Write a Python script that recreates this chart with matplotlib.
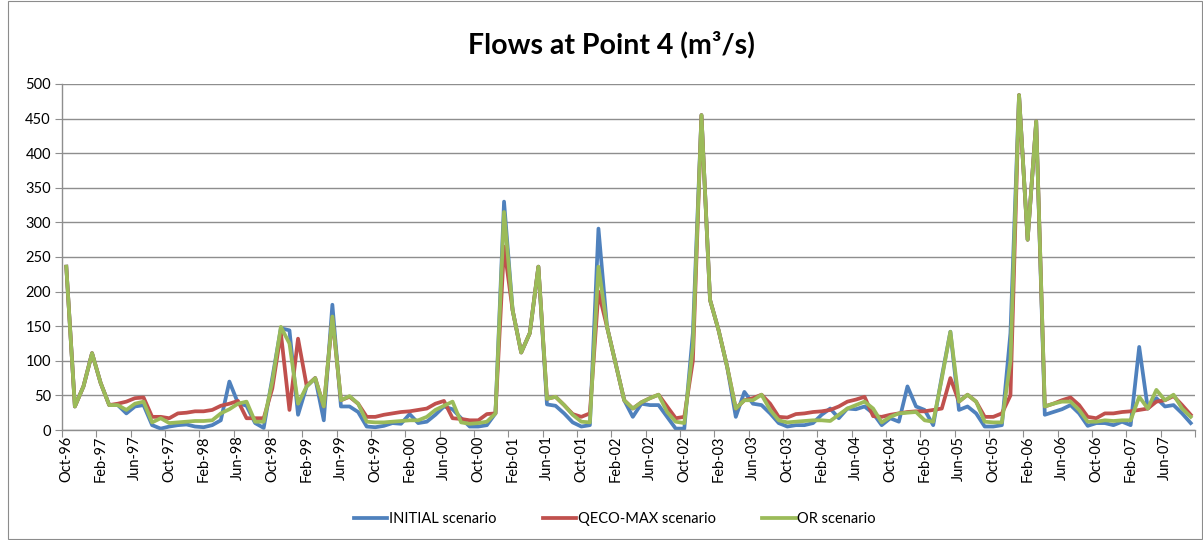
import matplotlib
matplotlib.use("Agg")
import matplotlib.pyplot as plt
from matplotlib.patches import Rectangle

tick_labels = ["Oct-96", "Feb-97", "Jun-97", "Oct-97", "Feb-98", "Jun-98", "Oct-98", "Feb-99",
               "Jun-99", "Oct-99", "Feb-00", "Jun-00", "Oct-00", "Feb-01", "Jun-01", "Oct-01",
               "Feb-02", "Jun-02", "Oct-02", "Feb-03", "Jun-03", "Oct-03", "Feb-04", "Jun-04",
               "Oct-04", "Feb-05", "Jun-05", "Oct-05", "Feb-06", "Jun-06", "Oct-06", "Feb-07", "Jun-07"]

initial = [236, 34, 63, 111, 68, 36, 36, 24, 34, 36, 7, 2,
           5, 7, 8, 5, 4, 7, 14, 70, 39, 35, 10, 3,
           75, 147, 144, 22, 63, 75, 14, 181, 34, 34, 26, 5,
           4, 6, 10, 9, 23, 10, 12, 22, 34, 30, 17, 5,
           5, 7, 24, 330, 173, 112, 140, 236, 37, 35, 24, 11,
           5, 7, 291, 149, 96, 43, 19, 38, 36, 36, 19, 2,
           2, 140, 455, 188, 144, 91, 19, 55, 38, 36, 24, 10,
           5, 7, 7, 10, 22, 31, 17, 31, 30, 34, 24, 7,
           17, 12, 63, 34, 29, 7, 77, 142, 29, 34, 24, 5,
           5, 7, 140, 484, 275, 446, 22, 26, 30, 36, 24, 6,
           10, 10, 7, 12, 7, 120, 31, 46, 34, 36, 24, 10]

qeco_max = [236, 34, 63, 111, 68, 36, 38, 41, 46, 47, 19, 19,
            17, 24, 25, 27, 27, 29, 35, 38, 42, 17, 17, 17,
            60, 140, 29, 132, 64, 75, 34, 162, 43, 48, 38, 19,
            19, 22, 24, 26, 27, 29, 31, 38, 42, 17, 16, 14,
            14, 23, 24, 265, 173, 112, 140, 236, 45, 48, 36, 23,
            19, 24, 200, 149, 96, 43, 31, 40, 46, 51, 34, 17,
            19, 100, 455, 188, 144, 91, 31, 43, 46, 51, 38, 19,
            18, 23, 24, 26, 27, 29, 34, 41, 44, 48, 20, 19,
            22, 24, 26, 27, 27, 29, 31, 75, 41, 51, 41, 19,
            19, 24, 50, 484, 275, 446, 34, 38, 43, 47, 36, 19,
            17, 24, 24, 26, 27, 29, 31, 41, 43, 49, 36, 22]

or_scen = [236, 34, 63, 111, 68, 36, 36, 29, 38, 41, 11, 17,
           10, 11, 12, 13, 13, 14, 24, 30, 38, 41, 12, 12,
           70, 149, 125, 38, 63, 75, 34, 164, 43, 49, 38, 12,
           11, 11, 12, 13, 14, 14, 19, 29, 35, 41, 11, 9,
           10, 12, 24, 315, 173, 112, 140, 236, 45, 48, 36, 22,
           12, 11, 236, 149, 96, 43, 31, 40, 46, 51, 26, 12,
           10, 120, 455, 188, 144, 91, 31, 43, 43, 51, 29, 14,
           11, 12, 13, 14, 14, 13, 22, 31, 36, 41, 31, 11,
           19, 24, 25, 26, 14, 12, 74, 142, 41, 51, 41, 12,
           11, 11, 100, 484, 275, 446, 34, 38, 41, 41, 29, 12,
           12, 14, 13, 14, 14, 48, 31, 58, 43, 51, 31, 19]

series_names = ["INITIAL scenario", "QECO-MAX scenario", "OR scenario"]
colors = ["#4F81BD", "#C0504D", "#9BBB59"]

plt.rcParams['font.family'] = ['Lato', 'DejaVu Sans']

fig = plt.figure(figsize=(12.03, 5.40), dpi=100)
fig.patches.append(Rectangle((8 / 1203, 0.002), 1 - 9 / 1203, 0.996, transform=fig.transFigure,
                             fill=False, edgecolor="#8c8c8c", linewidth=0.8))
ax = fig.add_axes([62 / 1203, 1 - 430 / 540, (1195 - 62) / 1203, (430 - 84) / 540])

n = len(initial)
x = list(range(n))
for vals, name, c in zip([initial, qeco_max, or_scen], series_names, colors):
    ax.plot(x, vals, color=c, linewidth=2.7, label=name, solid_joinstyle="round")

ax.set_xlim(-0.5, n - 0.5)
ax.set_ylim(0, 500)
ax.set_yticks(range(0, 501, 50))
ax.yaxis.grid(True, color="#8e8e8e", linewidth=1.0)
ax.set_axisbelow(True)
for s in ["top", "right"]:
    ax.spines[s].set_visible(False)
for s in ["left", "bottom"]:
    ax.spines[s].set_color("#8e8e8e")
    ax.spines[s].set_linewidth(1.0)

ax.set_xticks([i - 0.5 for i in range(0, n + 1, 4)])
ax.set_xticklabels([])
ax.set_xticks(list(range(0, 4 * len(tick_labels), 4)), minor=True)
ax.set_xticklabels(tick_labels, minor=True, rotation=90, fontsize=10.5)
ax.tick_params(axis="x", which="major", length=5, color="#8e8e8e")
ax.tick_params(axis="x", which="minor", length=0, pad=4)
ax.tick_params(axis="y", length=5, color="#8e8e8e", labelsize=10.5, pad=3)

fig.text(0.508, 1 - 45 / 540, "Flows at Point 4 (m³/s)", ha="center", va="center",
         fontsize=20.5, fontweight="bold")

leg = fig.legend(loc="center", bbox_to_anchor=(0.511, 1 - 519 / 540), ncol=3, frameon=False,
                 fontsize=10.5, handlelength=2.3, columnspacing=3.2, handletextpad=0.1)

fig.savefig("out.png", dpi=100)
